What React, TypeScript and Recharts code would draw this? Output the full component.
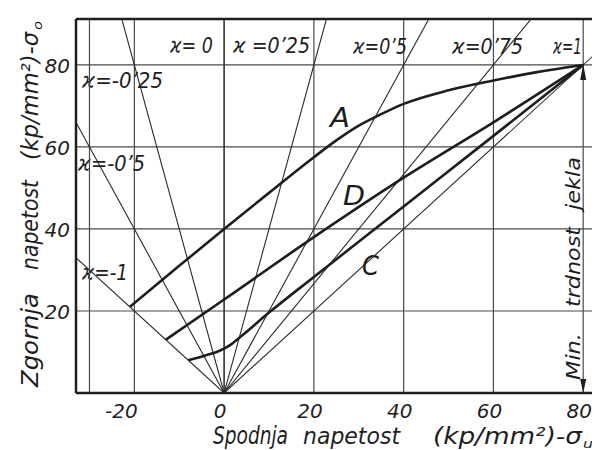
import React from "react";
import {
  LineChart,
  Line,
  XAxis,
  YAxis,
  CartesianGrid,
  ReferenceLine,
  ReferenceDot,
  Customized,
} from "recharts";

// axis ticks (kp/mm²)
const X_TICKS = [-20, 0, 20, 40, 60, 80];
const Y_TICKS = [20, 40, 60, 80];
const X_DOMAIN = [-33, 83.3];
const Y_DOMAIN = [0, 91.2];

// stress ratio rays: sigma_o = sigma_u / kappa
const KAPPAS = [-1, -0.5, -0.25, 0, 0.25, 0.5, 0.75, 1];

// fatigue limit curves A, D, C (lower stress -> upper stress)
const curveA = [
  { x: -21, y: 21 },
  { x: -10, y: 31 },
  { x: 0, y: 40 },
  { x: 10, y: 48.8 },
  { x: 20, y: 57.5 },
  { x: 25, y: 61.6 },
  { x: 30, y: 65.2 },
  { x: 35, y: 68 },
  { x: 40, y: 70.5 },
  { x: 50, y: 73.8 },
  { x: 60, y: 76.2 },
  { x: 70, y: 78.3 },
  { x: 80, y: 80 },
];
const curveD = [
  { x: -13, y: 13 },
  { x: 0, y: 22.8 },
  { x: 20, y: 38 },
  { x: 40, y: 52.5 },
  { x: 60, y: 66 },
  { x: 80, y: 80 },
];
const curveC = [
  { x: -8, y: 8 },
  { x: -4, y: 9.2 },
  { x: -1, y: 10.3 },
  { x: 1.5, y: 11.8 },
  { x: 4, y: 14 },
  { x: 10, y: 19.6 },
  { x: 20, y: 28.3 },
  { x: 40, y: 45.5 },
  { x: 60, y: 62.7 },
  { x: 80, y: 80 },
];

const INK = "#1e1e1e";
const FONT = "'DejaVu Sans', sans-serif";

const rays = KAPPAS.map((k) => ({
  k,
  data: [
    { x: 0, y: 0 },
    { x: k * 150, y: 150 },
  ],
}));

const tickStyle = {
  fontFamily: FONT,
  fontStyle: "italic",
  fontSize: 20,
  fill: INK,
};

const XTick = ({ x, y, payload }: any) => (
  <text
    x={x}
    y={y + 25}
    dx={payload.value < 0 ? -13 : -4}
    textAnchor="middle"
    style={tickStyle}
  >
    {payload.value}
  </text>
);

const YTick = ({ x, y, payload }: any) => (
  <text x={x - 6} y={y + 8} textAnchor="end" style={tickStyle}>
    {payload.value}
  </text>
);

// text helper: fixed run length so the narrow lettering fits
const T = ({ x, y, len, size = 21, rot = false, children }: any) => (
  <text
    x={x}
    y={y}
    textLength={len}
    lengthAdjust="spacingAndGlyphs"
    transform={rot ? `rotate(-90 ${x} ${y})` : undefined}
    style={{ fontFamily: FONT, fontStyle: "italic", fontSize: size, fill: INK }}
  >
    {children}
  </text>
);

const Annotations = () => (
  <g>
    {/* ray labels */}
    <T x={162} y={45} len={43}>ϰ= 0</T>
    <T x={225} y={45} len={77}>ϰ =0’25</T>
    <T x={345} y={46} len={54}>ϰ=0’5</T>
    <T x={444} y={46} len={71}>ϰ=0’75</T>
    <T x={545} y={46} len={29}>ϰ=1</T>
    <T x={74} y={80} len={81}>ϰ=-0’25</T>
    <T x={70} y={163} len={67}>ϰ=-0’5</T>
    <T x={74} y={272} len={46}>ϰ=-1</T>

    {/* curve names */}
    <T x={322} y={119} len={20} size={27}>A</T>
    <T x={335} y={197} len={22} size={27}>D</T>
    <T x={354} y={267} len={17} size={27}>C</T>

    {/* x axis title */}
    <T x={205} y={436} len={75} size={24}>Spodnja</T>
    <T x={295} y={436} len={97} size={23}>napetost</T>
    <T x={425} y={436} len={149} size={23}>(kp/mm²)-σ</T>
    <T x={575} y={440} len={10} size={13}>u</T>

    {/* y axis title */}
    <T x={30} y={379} len={94} size={23} rot>Zgornja</T>
    <T x={30} y={262} len={90} size={23} rot>napetost</T>
    <T x={30} y={152} len={128} size={23} rot>(kp/mm²)-σ</T>
    <T x={34} y={22} len={9} size={13} rot>o</T>

    {/* steel strength marker */}
    <T x={572} y={372} len={47} size={19} rot>Min.</T>
    <T x={572} y={299} len={80} size={19} rot>trdnost</T>
    <T x={572} y={202} len={53} size={19} rot>jekla</T>
  </g>
);

const arrowUp = ({ cx, cy }: any) => (
  <polygon
    points={`${cx},${cy - 1} ${cx - 3},${cy + 15} ${cx + 3},${cy + 15}`}
    fill={INK}
  />
);
const arrowDown = ({ cx, cy }: any) => (
  <polygon
    points={`${cx},${cy} ${cx - 3},${cy - 14} ${cx + 3},${cy - 14}`}
    fill={INK}
  />
);

export default function App() {
  return (
    <div style={{ width: 592, height: 442, background: "#fff" }}>
      <LineChart
        width={592}
        height={442}
        margin={{ top: 11, right: 2, left: 8, bottom: 27 }}
      >
        <CartesianGrid
          stroke="#4a4a4a"
          strokeWidth={1.2}
          horizontalValues={Y_TICKS}
          verticalValues={X_TICKS}
        />
        <XAxis
          type="number"
          dataKey="x"
          domain={X_DOMAIN}
          allowDataOverflow
          ticks={X_TICKS}
          tickLine={false}
          tickSize={0}
          tickMargin={0}
          height={30}
          axisLine={{ stroke: INK, strokeWidth: 2.5 }}
          tick={<XTick />}
        />
        <YAxis
          type="number"
          dataKey="y"
          domain={Y_DOMAIN}
          allowDataOverflow
          ticks={Y_TICKS}
          tickLine={false}
          tickSize={0}
          tickMargin={0}
          width={60}
          axisLine={{ stroke: INK, strokeWidth: 2.5 }}
          tick={<YTick />}
        />
        <ReferenceLine x={-30} stroke="#4a4a4a" strokeWidth={1.2} />
        <ReferenceLine y={91.2} stroke={INK} strokeWidth={2.5} />

        {rays.map((r) => (
          <Line
            key={`ray-${r.k}`}
            data={r.data}
            dataKey="y"
            type="linear"
            stroke="#2a2a2a"
            strokeWidth={1.1}
            dot={false}
            isAnimationActive={false}
          />
        ))}

        <Line data={curveA} dataKey="y" type="monotone" stroke={INK} strokeWidth={2.6} dot={false} isAnimationActive={false} />
        <Line data={curveD} dataKey="y" type="monotone" stroke={INK} strokeWidth={2.6} dot={false} isAnimationActive={false} />
        <Line data={curveC} dataKey="y" type="monotone" stroke={INK} strokeWidth={2.6} dot={false} isAnimationActive={false} />

        <ReferenceDot x={80} y={80} r={0} shape={arrowUp} />
        <ReferenceDot x={80} y={0} r={0} shape={arrowDown} />

        <Customized component={Annotations} />
      </LineChart>
    </div>
  );
}
